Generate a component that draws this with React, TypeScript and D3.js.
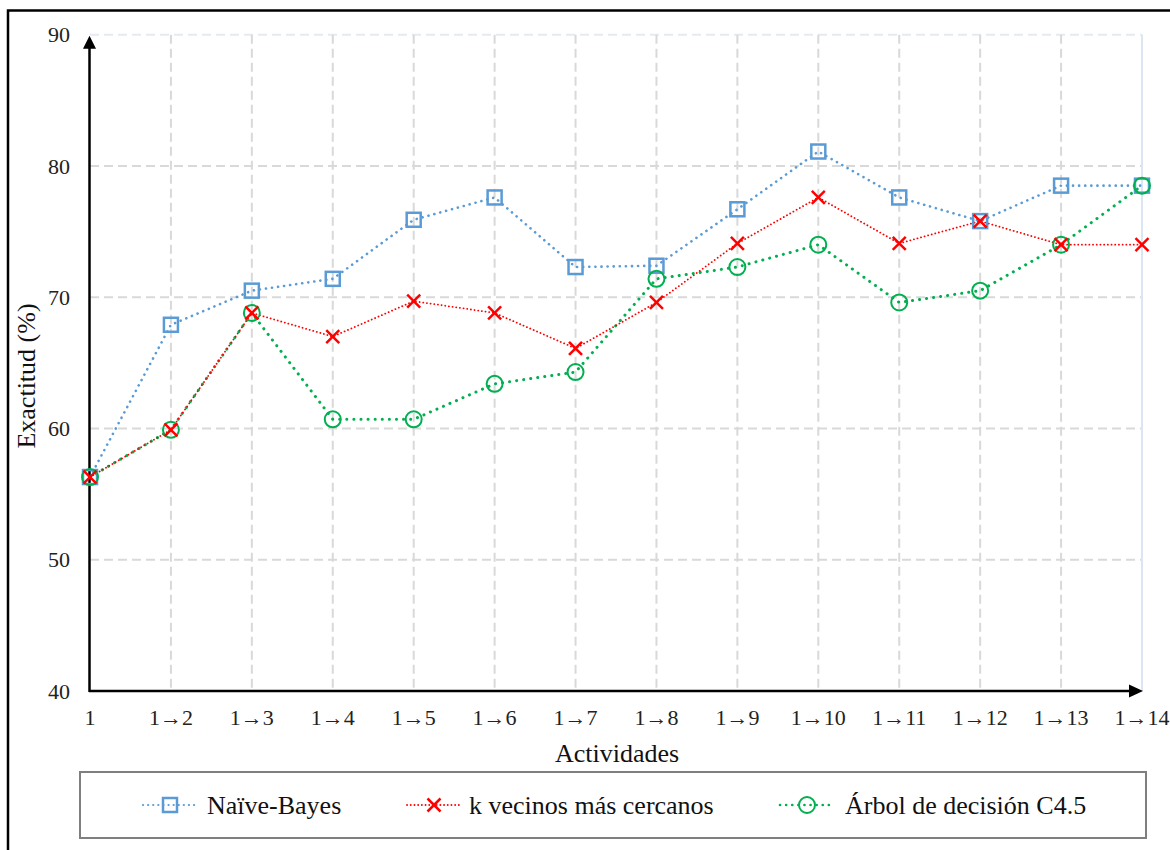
import React from "react";
import * as d3 from "d3";

const categories = ["1", "1→2", "1→3", "1→4", "1→5", "1→6", "1→7", "1→8", "1→9", "1→10", "1→11", "1→12", "1→13", "1→14"];
const naiveBayes = [56.3, 67.9, 70.5, 71.4, 75.9, 77.6, 72.3, 72.4, 76.7, 81.1, 77.6, 75.8, 78.5, 78.5];
const knn = [56.3, 59.9, 68.8, 67.0, 69.7, 68.8, 66.1, 69.6, 74.1, 77.6, 74.1, 75.8, 74.0, 74.0];
const c45 = [56.3, 59.9, 68.8, 60.7, 60.7, 63.4, 64.3, 71.4, 72.3, 74.0, 69.6, 70.5, 74.0, 78.5];
const yTicks = [40, 50, 60, 70, 80, 90];
const seriesNames = ["Naïve-Bayes", "k vecinos más cercanos", "Árbol de decisión C4.5"];

const FONT = "'Liberation Serif', 'Times New Roman', serif";
const BLUE = "#5b9bd5";
const RED = "#ff0000";
const GREEN = "#00b050";

type Kind = "square" | "x" | "circle";

function Marker({ kind, x, y }: { kind: Kind; x: number; y: number }) {
  if (kind === "square") {
    return <rect x={x - 7} y={y - 7} width={14} height={14} fill="none" stroke={BLUE} strokeWidth={2.5} />;
  }
  if (kind === "x") {
    const s = 6.5;
    return (
      <g stroke={RED} strokeWidth={2.5}>
        <line x1={x - s} y1={y - s} x2={x + s} y2={y + s} />
        <line x1={x - s} y1={y + s} x2={x + s} y2={y - s} />
      </g>
    );
  }
  return <circle cx={x} cy={y} r={8} fill="none" stroke={GREEN} strokeWidth={2} />;
}

export default function App() {
  const W = 1170;
  const H = 850;
  const x = d3.scalePoint<string>().domain(categories).range([90, 1142]);
  const y = d3.scaleLinear().domain([40, 90]).range([691, 34.7]);

  const series = [
    { name: seriesNames[0], values: naiveBayes, color: BLUE, width: 2.6, dash: "0.1 6", kind: "square" as Kind },
    { name: seriesNames[2], values: c45, color: GREEN, width: 3, dash: "0.1 7", kind: "circle" as Kind },
    { name: seriesNames[1], values: knn, color: RED, width: 1.8, dash: "0.1 3.6", kind: "x" as Kind },
  ];

  const line = d3
    .line<number>()
    .x((_, i) => x(categories[i]) as number)
    .y((d) => y(d));

  const x0 = 90;
  const x1 = 1142;
  const y0 = y(40);
  const yTop = y(90);

  const legendItems = [
    { name: seriesNames[0], color: BLUE, width: 2.2, dash: "0.1 5", kind: "square" as Kind, lx: 143, tx: 207 },
    { name: seriesNames[1], color: RED, width: 1.8, dash: "0.1 3.6", kind: "x" as Kind, lx: 407, tx: 469 },
    { name: seriesNames[2], color: GREEN, width: 2.6, dash: "0.1 6", kind: "circle" as Kind, lx: 780, tx: 845 },
  ];
  const legY = 805;

  return (
    <div style={{ position: "absolute", left: 0, top: 0 }}>
      <svg width={W} height={H} style={{ display: "block", background: "#fff" }} fontFamily={FONT}>
        {/* outer border */}
        <rect x={8} y={10.5} width={1180} height={860} fill="none" stroke="#000" strokeWidth={2.5} />

        {/* gridlines */}
        {yTicks
          .filter((t) => t > 40 && t < 90)
          .map((t) => (
            <line key={"h" + t} x1={x0} x2={x1} y1={y(t)} y2={y(t)} stroke="#d9d9d9" strokeWidth={2} strokeDasharray="9 5" />
          ))}
        <line x1={x0} x2={x1} y1={yTop} y2={yTop} stroke="#e6eaf0" strokeWidth={2} strokeDasharray="9 5" />
        {categories.slice(1, categories.length - 1).map((c) => (
          <line key={"v" + c} x1={x(c)} x2={x(c)} y1={yTop} y2={y0} stroke="#d9d9d9" strokeWidth={2} strokeDasharray="9 5" />
        ))}
        <line x1={x1} x2={x1} y1={yTop} y2={y0} stroke="#dce6f2" strokeWidth={2} />

        {/* axes */}
        <line x1={89.5} x2={89.5} y1={y0 + 1} y2={yTop + 10} stroke="#000" strokeWidth={2.5} />
        <path d={`M89.5,${yTop + 1} L83,${yTop + 14} L96,${yTop + 14} Z`} fill="#000" />
        <line x1={89} x2={x1 - 10} y1={y0} y2={y0} stroke="#000" strokeWidth={2.5} />
        <path d={`M${x1 + 1},${y0} L${x1 - 13},${y0 - 6.5} L${x1 - 13},${y0 + 6.5} Z`} fill="#000" />

        {/* y tick labels */}
        {yTicks.map((t) => (
          <text key={"yl" + t} x={70} y={y(t)} dy="0.35em" textAnchor="end" fontSize={22} fill="#222">
            {t}
          </text>
        ))}
        {/* x tick labels */}
        {categories.map((c) => (
          <text key={"xl" + c} x={x(c)} y={725} textAnchor="middle" fontSize={22} fill="#222">
            {c}
          </text>
        ))}

        {/* axis titles */}
        <text x={617} y={762} textAnchor="middle" fontSize={26} fill="#111">
          Actividades
        </text>
        <text transform="translate(35,376) rotate(-90)" textAnchor="middle" fontSize={26} fill="#111">
          Exactitud (%)
        </text>

        {/* series lines */}
        {series.map((s) => (
          <path
            key={"l" + s.name}
            d={line(s.values) || ""}
            fill="none"
            stroke={s.color}
            strokeWidth={s.width}
            strokeDasharray={s.dash}
            strokeLinecap="round"
          />
        ))}
        {/* markers */}
        {series.map((s) => (
          <g key={"m" + s.name}>
            {s.values.map((v, i) => (
              <Marker key={i} kind={s.kind} x={x(categories[i]) as number} y={y(v)} />
            ))}
          </g>
        ))}

        {/* legend */}
        <rect x={80} y={772} width={1066} height={66} fill="#fff" stroke="#7f7f7f" strokeWidth={2} />
        {legendItems.map((it) => (
          <g key={"lg" + it.name}>
            <line
              x1={it.lx}
              x2={it.lx + 54}
              y1={legY}
              y2={legY}
              stroke={it.color}
              strokeWidth={it.width}
              strokeDasharray={it.dash}
              strokeLinecap="round"
            />
            <Marker kind={it.kind} x={it.lx + 27} y={legY} />
            <text x={it.tx} y={legY} dy="0.33em" fontSize={26} fill="#111">
              {it.name}
            </text>
          </g>
        ))}
      </svg>
    </div>
  );
}
